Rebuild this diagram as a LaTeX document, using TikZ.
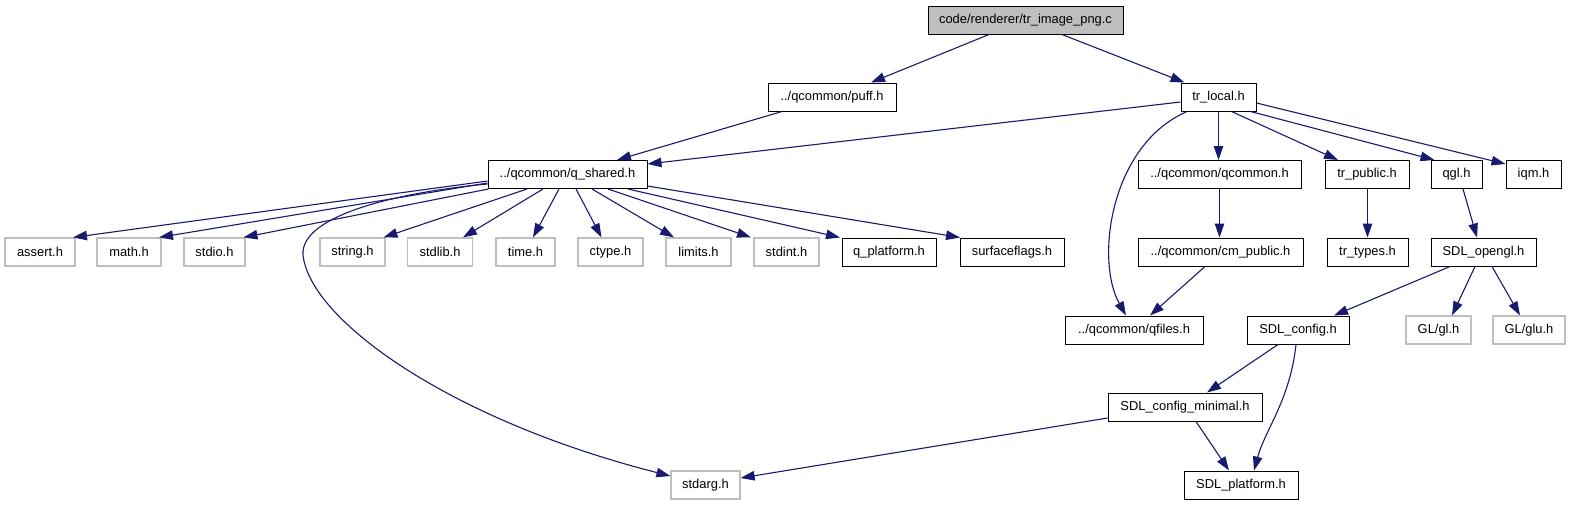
\documentclass[tikz,border=0pt]{standalone}
\usepackage{fontspec}
\setmainfont{Liberation Sans}
\usetikzlibrary{arrows.meta}
\definecolor{edgecol}{HTML}{191970}
\definecolor{graybd}{HTML}{BFBFBF}
\definecolor{topfill}{HTML}{BFBFBF}
\tikzset{
  hbox/.style={draw=black, fill=white, minimum height=28pt, inner sep=0pt, line width=1pt,
    font=\fontsize{12.9}{14}\selectfont},
  gbox/.style={hbox, draw=graybd, line width=1.2pt},
  dep/.style={draw=edgecol, line width=1.1pt, -{Triangle[length=14pt,width=9.5pt]}, fill=none}
}
\begin{document}
\begin{tikzpicture}[x=1pt,y=-1pt]
\useasboundingbox (0,0) rectangle (1569,504);
% level 0
\node[hbox, fill=topfill, minimum width=195pt] (top) at (1025.5,20) {code/renderer/tr\_image\_png.c};
% level 1
\node[hbox, minimum width=128pt] (puff) at (832,97) {../qcommon/puff.h};
\node[hbox, minimum width=75pt] (trl) at (1218.5,97) {tr\_local.h};
% level 2
\node[hbox, minimum width=159pt] (qs) at (567.5,174.5) {../qcommon/q\_shared.h};
\node[hbox, minimum width=163pt] (qc) at (1219.5,174.5) {../qcommon/qcommon.h};
\node[hbox, minimum width=84pt] (trp) at (1367,174.5) {tr\_public.h};
\node[hbox, minimum width=51pt] (qgl) at (1456.5,174.5) {qgl.h};
\node[hbox, minimum width=55pt] (iqm) at (1533.5,174.5) {iqm.h};
% level 3
\node[gbox, minimum width=70pt] (assert) at (40,252) {assert.h};
\node[gbox, minimum width=64pt] (math) at (129,252) {math.h};
\node[gbox, minimum width=61pt] (stdio) at (214.5,252) {stdio.h};
\node[gbox, minimum width=65pt] (string) at (352.5,252) {string.h};
\node[gbox, minimum width=65pt] (stdlib) at (440,252) {stdlib.h};
\node[gbox, minimum width=59pt] (time) at (525.5,252) {time.h};
\node[gbox, minimum width=65pt] (ctype) at (610.5,252) {ctype.h};
\node[gbox, minimum width=65pt] (limits) at (698.5,252) {limits.h};
\node[gbox, minimum width=65pt] (stdint) at (786.5,252) {stdint.h};
\node[hbox, minimum width=94pt] (qp) at (889,252) {q\_platform.h};
\node[hbox, minimum width=104pt] (sf) at (1012,252) {surfaceflags.h};
\node[hbox, minimum width=165pt] (cm) at (1220.5,252) {../qcommon/cm\_public.h};
\node[hbox, minimum width=81pt] (trt) at (1367.5,252) {tr\_types.h};
\node[hbox, minimum width=105pt] (so) at (1483.5,252) {SDL\_opengl.h};
% level 4
\node[hbox, minimum width=138pt] (qf) at (1134,330) {../qcommon/qfiles.h};
\node[hbox, minimum width=102pt] (sc) at (1298,330) {SDL\_config.h};
\node[gbox, minimum width=65pt] (gl) at (1438.5,330) {GL/gl.h};
\node[gbox, minimum width=72pt] (glu) at (1529,330) {GL/glu.h};
% level 5
\node[hbox, minimum width=154pt] (min) at (1185,407) {SDL\_config\_minimal.h};
% level 6
\node[gbox, minimum width=69pt] (stdarg) at (705.5,485) {stdarg.h};
\node[hbox, minimum width=114pt] (plat) at (1241,485) {SDL\_platform.h};

% edges
\draw[dep] ([xshift=-36.5pt]top.south) -- ([xshift=39pt]puff.north);
\draw[dep] ([xshift=36.5pt]top.south) -- ([xshift=-34pt]trl.north);
\draw[dep] ([xshift=-50pt]puff.south) -- ([xshift=49.5pt]qs.north);
\draw[dep] ([yshift=-5pt]trl.west) -- ([yshift=10.5pt]qs.east);
\draw[dep] ([xshift=-31.5pt]trl.south) .. controls (1110,145) and (1095,260) .. ([xshift=-8pt]qf.north);
\draw[dep] (trl.south) -- (trl.south |- qc.north);
\draw[dep] ([xshift=13pt]trl.south) -- ([xshift=-29pt]trp.north);
\draw[dep] ([xshift=32pt]trl.south) -- ([xshift=-22pt]qgl.north);
\draw[dep] ([yshift=-6pt]trl.east) -- ([yshift=10.5pt]iqm.west);

\draw[dep] ([yshift=-6.5pt]qs.west) -- ([xshift=33pt]assert.north);
\draw[dep] ([yshift=-8.5pt]qs.west) -- ([xshift=30pt]math.north);
\draw[dep] ([xshift=1pt]qs.south west) -- ([xshift=29pt]stdio.north);
\draw[dep] ([yshift=-9.5pt]qs.west) .. controls (400,192) and (300,215) .. (303,255)
   .. controls (310,320) and (450,420) .. ([yshift=9pt]stdarg.west);
\draw[dep] ([xshift=-40.5pt]qs.south) -- ([xshift=31pt]string.north);
\draw[dep] ([xshift=-24.5pt]qs.south) -- ([xshift=23pt]stdlib.north);
\draw[dep] ([xshift=-8.5pt]qs.south) -- ([xshift=7.5pt]time.north);
\draw[dep] ([xshift=8.5pt]qs.south) -- ([xshift=-9pt]ctype.north);
\draw[dep] ([xshift=24.5pt]qs.south) -- ([xshift=-24.5pt]limits.north);
\draw[dep] ([xshift=40.5pt]qs.south) -- ([xshift=-35.5pt]stdint.north);
\draw[dep] ([xshift=60.5pt]qs.south) -- ([xshift=-49pt]qp.north);
\draw[dep] ([yshift=-11.5pt]qs.east) -- ([xshift=-52pt]sf.north);

\draw[dep] (qc.south) -- (qc.south |- cm.north);
\draw[dep] ([xshift=-15.5pt]cm.south) -- ([xshift=16pt]qf.north);
\draw[dep] ([xshift=0.5pt]trp.south) -- ([xshift=0.5pt]trp.south |- trt.north);
\draw[dep] ([xshift=6.5pt]qgl.south) -- ([xshift=-6.5pt]so.north);
\draw[dep] ([xshift=-33.5pt]so.south) -- ([xshift=36pt]sc.north);
\draw[dep] ([xshift=-8.5pt]so.south) -- ([xshift=13.5pt]gl.north);
\draw[dep] ([xshift=8.5pt]so.south) -- ([xshift=-9pt]glu.north);
\draw[dep] ([xshift=-20pt]sc.south) -- ([xshift=22pt]min.north);
\draw[dep] ([xshift=-2pt]sc.south) .. controls (1290,400) and (1265,430) .. ([xshift=13pt]plat.north);
\draw[dep] ([xshift=11pt]min.south) -- ([xshift=-12pt]plat.north);
\draw[dep] ([yshift=-11pt]min.west) -- ([yshift=7pt]stdarg.east);
\end{tikzpicture}
\end{document}
